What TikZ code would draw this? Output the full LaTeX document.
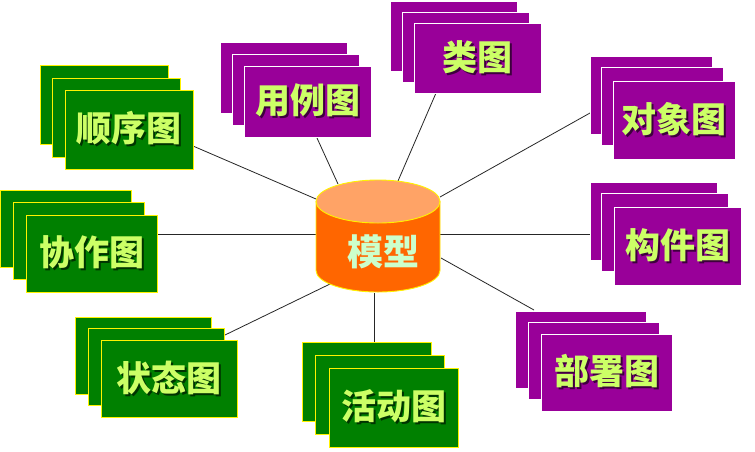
\documentclass[tikz,border=0pt]{standalone}
\usepackage{fontspec}
\newfontfamily\cjk{Noto Sans CJK SC}
\definecolor{boxgreen}{HTML}{008000}
\definecolor{boxpurple}{HTML}{990099}
\definecolor{lblgreen}{HTML}{CCFF66}
\definecolor{cyltext}{HTML}{CCFFCC}
\definecolor{cylbody}{HTML}{FF6600}
\definecolor{cyltop}{HTML}{FFA366}
\colorlet{gshadow}{black!60!boxgreen}
\colorlet{pshadow}{black!60!boxpurple}
\tikzset{
  gbox/.style 2 args={draw=yellow, fill=boxgreen, line width=0.9pt, minimum width=#1pt, minimum height=#2pt, inner sep=0pt, outer sep=0pt, anchor=north west},
  pbox/.style 2 args={draw=white, fill=boxpurple, line width=0.9pt, minimum width=#1pt, minimum height=#2pt, inner sep=0pt, outer sep=0pt, anchor=north west},
  lbl/.style={text=lblgreen, font=\cjk\bfseries\fontsize{35}{40}\selectfont, inner sep=0pt},
  cyltxt/.style={text=cyltext, font=\cjk\bfseries\fontsize{36}{40}\selectfont, inner sep=0pt},
  link/.style={draw=black!85, line width=0.8pt},
  cylline/.style={draw=yellow, line width=0.9pt},
}
\newcommand\shadowedtext[2]{\leavevmode\rlap{\kern2pt\raisebox{-2pt}{\textcolor{#1}{#2}}}#2}
\newcommand\drawstack[9]{%
  \node[#2={#3}{#4}] (#1-b) at (#5) {};
  \node[#2={#3}{#4}] (#1-m) at (#6) {};
  \node[#2={#3}{#4}] (#1) at (#7) {};
  \node[lbl] (#1-t) at (#1.center) {\shadowedtext{#9}{#8}};
}
\begin{document}
\begin{tikzpicture}[x=1pt, y=-1pt]
\fill[white] (0,0) rectangle (755,451);
\useasboundingbox (0,0) rectangle (755,451);
% connector end points
\coordinate (c1) at (316,199); \coordinate (e1) at (193,146);
\coordinate (c2) at (338,184); \coordinate (e2) at (317,138);
\coordinate (c3) at (398,181); \coordinate (e3) at (436,93);
\coordinate (c4) at (440,197); \coordinate (e4) at (590,113);
\coordinate (c5) at (316,234); \coordinate (e5) at (157,234);
\coordinate (c6) at (440,234); \coordinate (e6) at (590,234);
\coordinate (c7) at (441,258); \coordinate (e7) at (534,310);
\coordinate (c8) at (374,293); \coordinate (e8) at (374,342);
\coordinate (c9) at (330,284); \coordinate (e9) at (225,335);
\foreach \i in {1,...,9} { \draw[link] (c\i) -- (e\i); }
% cylinder
\path[fill=cylbody, cylline] (316,201.5) -- (316,270.5)
  arc[start angle=180, end angle=360, x radius=62pt, y radius=21.5pt] -- (440,201.5) -- cycle;
\path[fill=cyltop, cylline] (378,201.5) ellipse [x radius=62pt, y radius=21.5pt];
\node[cyltxt] (model) at (383,252) {模型};
% stacks
\drawstack{shunxu}{gbox}{128}{79}{40,65}{52,78}{65,90}{顺序图}{gshadow}
\drawstack{xiezuo}{gbox}{131}{77}{0.5,190}{13,202}{26,215}{协作图}{gshadow}
\drawstack{zhuangtai}{gbox}{136}{77}{75,317}{88,328}{101,340}{状态图}{gshadow}
\drawstack{huodong}{gbox}{129}{79}{302,342}{315,355}{329,368}{活动图}{gshadow}
\drawstack{yongli}{pbox}{127}{71}{220,42}{232,54}{244,66}{用例图}{pshadow}
\drawstack{lei}{pbox}{127}{70}{390,1}{402,12}{414,23}{类图}{pshadow}
\drawstack{duixiang}{pbox}{122}{78}{590,56}{601,67}{613,81}{对象图}{pshadow}
\drawstack{goujian}{pbox}{127}{78}{590,182}{601,193}{614,207}{构件图}{pshadow}
\drawstack{bushu}{pbox}{131}{77}{515,311}{528,322}{541,334}{部署图}{pshadow}
\end{tikzpicture}
\end{document}
